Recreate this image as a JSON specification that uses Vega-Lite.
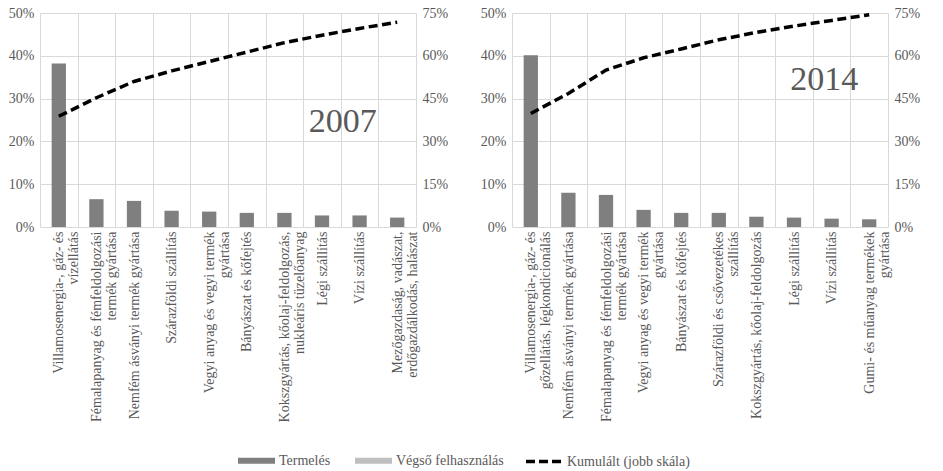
{
  "$schema": "https://vega.github.io/schema/vega-lite/v6.json",
  "padding": {"left": 8, "top": 6, "right": 5, "bottom": 0},
  "datasets": {
    "d2007": [
      {"sector": "Villamosenergia-, gáz- és|vízellátás", "termeles": 38.2, "kumulalt": 38.8},
      {"sector": "Fémalapanyag és fémfeldolgozási|termék gyártása", "termeles": 6.5, "kumulalt": 45.3},
      {"sector": "Nemfém ásványi termék gyártása", "termeles": 6.1, "kumulalt": 51.0},
      {"sector": "Szárazföldi szállítás", "termeles": 3.8, "kumulalt": 54.7},
      {"sector": "Vegyi anyag és vegyi termék|gyártása", "termeles": 3.6, "kumulalt": 58.0},
      {"sector": "Bányászat és kőfejtés", "termeles": 3.3, "kumulalt": 61.3},
      {"sector": "Kokszgyártás, kőolaj-feldolgozás,|nukleáris tüzelőanyag", "termeles": 3.3, "kumulalt": 64.6},
      {"sector": "Légi szállítás", "termeles": 2.7, "kumulalt": 67.2},
      {"sector": "Vízi szállítás", "termeles": 2.7, "kumulalt": 69.6},
      {"sector": "Mezőgazdaság, vadászat,|erdőgazdálkodás, halászat", "termeles": 2.2, "kumulalt": 71.8}
    ],
    "d2014": [
      {"sector": "Villamosenergia-, gáz- és|gőzellátás, légkondicionálás", "termeles": 40.1, "kumulalt": 39.8},
      {"sector": "Nemfém ásványi termék gyártása", "termeles": 8.0, "kumulalt": 46.8},
      {"sector": "Fémalapanyag és fémfeldolgozási|termék gyártása", "termeles": 7.5, "kumulalt": 55.0},
      {"sector": "Vegyi anyag és vegyi termék|gyártása", "termeles": 4.0, "kumulalt": 59.3},
      {"sector": "Bányászat és kőfejtés", "termeles": 3.3, "kumulalt": 62.4},
      {"sector": "Szárazföldi és csővezetékes|szállítás", "termeles": 3.3, "kumulalt": 65.6},
      {"sector": "Kokszgyártás, kőolaj-feldolgozás", "termeles": 2.4, "kumulalt": 68.2},
      {"sector": "Légi szállítás", "termeles": 2.2, "kumulalt": 70.4},
      {"sector": "Vízi szállítás", "termeles": 1.95, "kumulalt": 72.4},
      {"sector": "Gumi- és műanyag termékek|gyártása", "termeles": 1.8, "kumulalt": 74.4}
    ],
    "ev2007": [{"sector": "Légi szállítás", "pos": 24.6, "ev": "2007"}],
    "ev2014": [{"sector": "Légi szállítás", "pos": 34.3, "ev": "2014"}]
  },
  "hconcat": [
    {
      "width": 376,
      "height": 214,
      "layer": [
        {
          "layer": [
            {
              "data": {"name": "d2007"},
              "mark": {"type": "bar", "width": {"band": 0.38}},
              "encoding": {
                "x": {
                  "field": "sector",
                  "type": "nominal",
                  "title": null,
                  "scale": {
                    "domain": [
                      "Villamosenergia-, gáz- és|vízellátás",
                      "Fémalapanyag és fémfeldolgozási|termék gyártása",
                      "Nemfém ásványi termék gyártása",
                      "Szárazföldi szállítás",
                      "Vegyi anyag és vegyi termék|gyártása",
                      "Bányászat és kőfejtés",
                      "Kokszgyártás, kőolaj-feldolgozás,|nukleáris tüzelőanyag",
                      "Légi szállítás",
                      "Vízi szállítás",
                      "Mezőgazdaság, vadászat,|erdőgazdálkodás, halászat"
                    ],
                    "paddingInner": 0,
                    "paddingOuter": 0
                  },
                  "axis": {"labelExpr": "split(datum.label, '|')"}
                },
                "y": {
                  "field": "termeles",
                  "type": "quantitative",
                  "title": null,
                  "scale": {"domain": [0, 50]},
                  "axis": {"values": [0, 10, 20, 30, 40, 50], "labelExpr": "datum.value + '%'", "grid": true}
                },
                "fill": {
                  "datum": "Termelés",
                  "scale": {"domain": ["Termelés", "Végső felhasználás"], "range": ["#7f7f7f", "#bfbfbf"]},
                  "legend": {
                    "title": null,
                    "orient": "bottom",
                    "direction": "horizontal",
                    "symbolType": "M-1,-0.16H1V0.16H-1Z",
                    "symbolSize": 1369,
                    "symbolStrokeWidth": 0,
                    "columnPadding": 24
                  }
                }
              }
            },
            {
              "data": {"name": "ev2007"},
              "mark": {"type": "text", "align": "left", "baseline": "middle", "fontSize": 34, "color": "#595959", "font": "Liberation Serif, Times New Roman, serif"},
              "encoding": {
                "x": {"field": "sector", "type": "nominal", "bandPosition": 0.15},
                "y": {"field": "pos", "type": "quantitative", "title": null},
                "text": {"field": "ev"}
              }
            }
          ]
        },
        {
          "data": {"name": "d2007"},
          "mark": {"type": "line", "strokeWidth": 3.5, "strokeDash": [9, 4.5]},
          "encoding": {
            "x": {"field": "sector", "type": "nominal"},
            "y": {
              "field": "kumulalt",
              "type": "quantitative",
              "title": null,
              "scale": {"domain": [0, 75]},
              "axis": {"orient": "right", "values": [0, 15, 30, 45, 60, 75], "labelExpr": "datum.value + '%'", "grid": false}
            },
            "stroke": {
              "datum": "Kumulált (jobb skála)",
              "scale": {"range": ["#000000"]},
              "legend": {
                "title": null,
                "orient": "bottom",
                "symbolType": "stroke",
                "symbolDash": [9, 4],
                "symbolStrokeWidth": 3.5,
                "symbolSize": 1225
              }
            }
          }
        }
      ],
      "resolve": {"scale": {"y": "independent"}}
    },
    {
      "width": 376,
      "height": 214,
      "layer": [
        {
          "layer": [
            {
              "data": {"name": "d2014"},
              "mark": {"type": "bar", "width": {"band": 0.38}},
              "encoding": {
                "x": {
                  "field": "sector",
                  "type": "nominal",
                  "title": null,
                  "scale": {
                    "domain": [
                      "Villamosenergia-, gáz- és|gőzellátás, légkondicionálás",
                      "Nemfém ásványi termék gyártása",
                      "Fémalapanyag és fémfeldolgozási|termék gyártása",
                      "Vegyi anyag és vegyi termék|gyártása",
                      "Bányászat és kőfejtés",
                      "Szárazföldi és csővezetékes|szállítás",
                      "Kokszgyártás, kőolaj-feldolgozás",
                      "Légi szállítás",
                      "Vízi szállítás",
                      "Gumi- és műanyag termékek|gyártása"
                    ],
                    "paddingInner": 0,
                    "paddingOuter": 0
                  },
                  "axis": {"labelExpr": "split(datum.label, '|')"}
                },
                "y": {
                  "field": "termeles",
                  "type": "quantitative",
                  "title": null,
                  "scale": {"domain": [0, 50]},
                  "axis": {"values": [0, 10, 20, 30, 40, 50], "labelExpr": "datum.value + '%'", "grid": true}
                },
                "fill": {"datum": "Termelés"}
              }
            },
            {
              "data": {"name": "ev2014"},
              "mark": {"type": "text", "align": "left", "baseline": "middle", "fontSize": 34, "color": "#595959", "font": "Liberation Serif, Times New Roman, serif"},
              "encoding": {
                "x": {"field": "sector", "type": "nominal", "bandPosition": 0.4},
                "y": {"field": "pos", "type": "quantitative", "title": null},
                "text": {"field": "ev"}
              }
            }
          ]
        },
        {
          "data": {"name": "d2014"},
          "mark": {"type": "line", "strokeWidth": 3.5, "strokeDash": [9, 4.5]},
          "encoding": {
            "x": {"field": "sector", "type": "nominal"},
            "y": {
              "field": "kumulalt",
              "type": "quantitative",
              "title": null,
              "scale": {"domain": [0, 75]},
              "axis": {"orient": "right", "values": [0, 15, 30, 45, 60, 75], "labelExpr": "datum.value + '%'", "grid": false}
            },
            "stroke": {"datum": "Kumulált (jobb skála)"}
          }
        }
      ],
      "resolve": {"scale": {"y": "independent"}}
    }
  ],
  "spacing": 32,
  "config": {
    "font": "Liberation Serif, Times New Roman, serif",
    "view": {"stroke": null},
    "axis": {
      "domain": false,
      "ticks": false,
      "gridColor": "#d9d9d9",
      "gridWidth": 1,
      "labelFont": "Liberation Serif, Times New Roman, serif",
      "labelFontSize": 14,
      "labelColor": "#595959",
      "labelPadding": 6
    },
    "axisX": {
      "grid": true,
      "tickBand": "extent",
      "labelAngle": -90,
      "labelAlign": "right",
      "labelBaseline": "middle",
      "labelFontSize": 14,
      "labelLineHeight": 15,
      "labelLimit": 0,
      "labelPadding": 4
    },
    "legend": {
      "labelFont": "Liberation Serif, Times New Roman, serif",
      "labelFontSize": 14,
      "labelColor": "#595959",
      "offset": 20,
      "layout": {"bottom": {"anchor": "middle", "direction": "horizontal", "margin": 20}}
    }
  }
}
